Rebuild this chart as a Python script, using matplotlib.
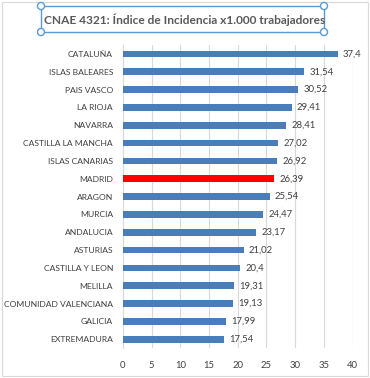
import matplotlib
matplotlib.use("Agg")
import matplotlib.pyplot as plt
from matplotlib.patches import Rectangle, Circle

regions = ["CATALUÑA", "ISLAS BALEARES", "PAIS VASCO", "LA RIOJA", "NAVARRA",
           "CASTILLA LA MANCHA", "ISLAS CANARIAS", "MADRID", "ARAGON", "MURCIA",
           "ANDALUCIA", "ASTURIAS", "CASTILLA Y LEON", "MELILLA",
           "COMUNIDAD VALENCIANA", "GALICIA", "EXTREMADURA"]
values = [37.4, 31.54, 30.52, 29.41, 28.41, 27.02, 26.92, 26.39, 25.54, 24.47,
          23.17, 21.02, 20.4, 19.31, 19.13, 17.99, 17.54]
value_labels = ["37,4", "31,54", "30,52", "29,41", "28,41", "27,02", "26,92",
                "26,39", "25,54", "24,47", "23,17", "21,02", "20,4", "19,31",
                "19,13", "17,99", "17,54"]
highlight = "MADRID"
xticks = [0, 5, 10, 15, 20, 25, 30, 35, 40]

plt.rcParams['font.family'] = ['Lato', 'DejaVu Sans']

fig = plt.figure(figsize=(3.7, 3.78), dpi=100)
# outer chart border
fig.patches.append(Rectangle((2 / 370, 2 / 378), 366 / 370, 374 / 378,
                             transform=fig.transFigure, fill=False,
                             edgecolor="#d9d9d9", linewidth=0.8))

ax = fig.add_axes([0.332, 0.079, 0.621, 0.802])
colors = ["#ff0000" if r == highlight else "#4a7ebb" for r in regions]
ypos = list(range(len(regions)))
ax.barh(ypos, values, height=0.38, color=colors, zorder=3)
ax.set_ylim(len(regions) - 0.5, -0.5)
ax.set_xlim(0, 40)
ax.set_yticks(ypos)
ax.set_yticklabels(regions, fontsize=6.1, color="#404040")
ax.set_xticks(xticks)
ax.set_xticklabels([str(t) for t in xticks], fontsize=6.8, color="#404040")
ax.tick_params(length=0, pad=7)
ax.tick_params(axis="x", pad=9)
ax.grid(axis="x", color="#d9d9d9", linewidth=0.8, zorder=0)
for s in ["top", "right", "bottom"]:
    ax.spines[s].set_visible(False)
ax.spines["left"].set_color("#d9d9d9")
ax.spines["left"].set_linewidth(0.8)

for y, v, lab in zip(ypos, values, value_labels):
    ax.text(v + 0.9, y, lab, va="center", ha="left", fontsize=6.8,
            color="#404040", zorder=4)

# title inside a selected text box
fig.text(0.5, 0.947, "CNAE 4321: Índice de Incidencia x1.000 trabajadores",
         ha="center", va="center", fontsize=8.6, fontweight="bold",
         color="#595959")
bx0, by0, bx1, by1 = 41, 346, 324, 372
fig.patches.append(Rectangle((bx0 / 370, by0 / 378), (bx1 - bx0) / 370,
                             (by1 - by0) / 378, transform=fig.transFigure,
                             fill=False, edgecolor="#5b9bd5", linewidth=1.0))
for cx, cy in [(bx0, by0), (bx1, by0), (bx0, by1), (bx1, by1)]:
    fig.patches.append(Circle((cx / 370, cy / 378), 3.5 / 370,
                              transform=fig.transFigure, facecolor="white",
                              edgecolor="#5b9bd5", linewidth=1.0, zorder=5))

fig.savefig("out.png", dpi=100)
